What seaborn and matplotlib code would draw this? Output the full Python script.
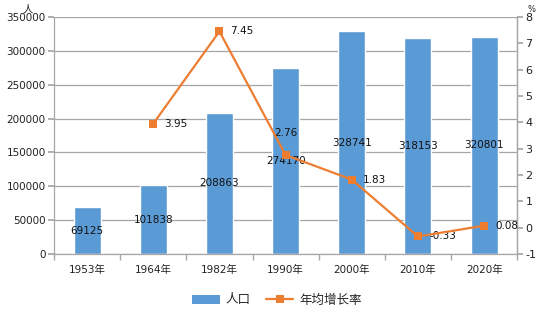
import matplotlib
matplotlib.use("Agg")
import matplotlib.pyplot as plt
import seaborn as sns
import pandas as pd
import numpy as np
from matplotlib.patches import Patch
from matplotlib.lines import Line2D

years = ['1953年', '1964年', '1982年', '1990年', '2000年', '2010年', '2020年']
population = [69125, 101838, 208863, 274170, 328741, 318153, 320801]
growth = [np.nan, 3.95, 7.45, 2.76, 1.83, -0.33, 0.08]
growth_labels = ['', '3.95', '7.45', '2.76', '1.83', '-0.33', '0.08']

sns.set_theme(style="white")
plt.rcParams['font.family'] = ['DejaVu Sans', 'Noto Sans CJK SC']
plt.rcParams['axes.unicode_minus'] = False

df = pd.DataFrame({'year': years, 'pop': population, 'rate': growth})

fig = plt.figure(figsize=(5.54, 3.25), dpi=100)
ax = fig.add_axes([0.0975, 0.218, 0.836, 0.730])

bar_color = '#5B9BD5'
line_color = '#ED7D31'
grid_color = '#A6A6A6'
fs = 7.5

sns.barplot(data=df, x='year', y='pop', color=bar_color, width=0.41,
            saturation=1, ax=ax, zorder=2)
ax.set_ylim(0, 350000)
ax.set_yticks(np.arange(0, 350001, 50000))
ax.set_xlim(-0.5, 6.5)
ax.yaxis.grid(True, color=grid_color, linewidth=0.9, zorder=0)
ax.set_axisbelow(True)
ax.set_xlabel('')
ax.set_ylabel('')
for s in ['left', 'bottom', 'right']:
    ax.spines[s].set_color(grid_color)
    ax.spines[s].set_linewidth(0.9)
ax.spines['top'].set_visible(False)
ax.tick_params(axis='y', which='major', length=4, color=grid_color,
               labelsize=fs, pad=2, left=True, labelcolor='#222222')
ax.tick_params(axis='x', which='major', length=0, labelsize=fs, pad=8,
               labelcolor='#222222')
ax.set_xticks(np.arange(-0.5, 7, 1), minor=True)
ax.tick_params(axis='x', which='minor', length=4, color=grid_color, bottom=True)

for i, v in enumerate(population):
    ax.text(i, v / 2, str(v), ha='center', va='center', fontsize=fs,
            color='#111111', zorder=5)

ax2 = ax.twinx()
sns.lineplot(data=df, x='year', y='rate', color=line_color, marker='s',
             markersize=6, markeredgewidth=0, linewidth=1.6, ax=ax2,
             sort=False, zorder=4)
ax2.set_ylim(-1, 8)
ax2.set_yticks(np.arange(-1, 9, 1))
ax2.set_ylabel('')
ax2.set_xlabel('')
for s in ['left', 'bottom', 'top']:
    ax2.spines[s].set_visible(False)
ax2.spines['right'].set_color(grid_color)
ax2.spines['right'].set_linewidth(0.9)
ax2.tick_params(axis='y', length=4, color=grid_color, labelsize=fs + 0.5, pad=2,
                right=True, labelcolor='#222222')
ax2.set_xlim(-0.5, 6.5)

for i, (v, lab) in enumerate(zip(growth, growth_labels)):
    if not lab:
        continue
    if lab == '2.76':
        ax2.annotate(lab, (i, v), xytext=(0, 12), textcoords='offset points',
                     ha='center', va='bottom', fontsize=fs, color='#111111')
    else:
        ax2.annotate(lab, (i, v), xytext=(8, 0), textcoords='offset points',
                     ha='left', va='center', fontsize=fs, color='#111111')

fig.text(28 / 554, 1 - 9 / 325, '人', ha='center', va='center', fontsize=fs,
         color='#222222')
fig.text(531 / 554, 1 - 9 / 325, '%', ha='center', va='center', fontsize=6,
         color='#222222')

handles = [Patch(facecolor=bar_color, edgecolor='none'),
           Line2D([0], [0], color=line_color, marker='s', markersize=6,
                  markeredgewidth=0, linewidth=1.6)]
fig.legend(handles, ['人口', '年均增长率'], loc='center',
           bbox_to_anchor=(0.5, 1 - 300 / 325), ncol=2, frameon=False,
           fontsize=9, handlelength=2.2, columnspacing=1.2,
           handletextpad=0.5)

fig.savefig('out.png', dpi=100)
